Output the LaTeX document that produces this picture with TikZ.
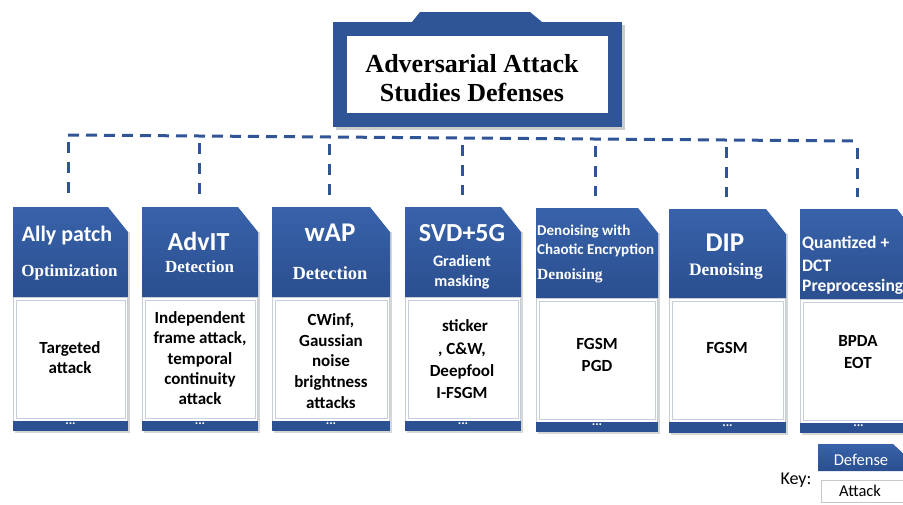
\documentclass[tikz,border=0pt]{standalone}
\usepackage{fontspec}
\setmainfont{Liberation Serif}
\newfontfamily\calfont{Carlito}
\usetikzlibrary{calc}

\definecolor{deepblue}{RGB}{47,85,151}
\definecolor{hdtop}{RGB}{56,98,170}
\definecolor{hdbot}{RGB}{43,79,143}
\definecolor{footblue}{RGB}{44,81,146}
\definecolor{paneline}{RGB}{198,206,218}

\begin{document}
\begin{tikzpicture}[x=1pt,y=-1pt,
  hd/.style={text=white, anchor=base, inner sep=0pt},
  hdl/.style={text=white, anchor=base west, inner sep=0pt},
  sans/.style={font=\calfont\bfseries\fontsize{#1}{#1}\selectfont},
  serif/.style={font=\bfseries\fontsize{#1}{#1}\selectfont},
  bodytxt/.style={font=\calfont\bfseries\fontsize{17}{#1}\selectfont, align=center, inner sep=0pt},
  bus/.style={draw=deepblue, line width=3pt, dash pattern=on 11pt off 7pt},
  link/.style={draw=deepblue, line width=3pt, dash pattern=on 11pt off 9pt,
               shorten <=7pt, shorten >=12pt},
  dots/.style={text=white, font=\calfont\bfseries\fontsize{13}{13}\selectfont, inner sep=0pt},
]
\useasboundingbox (0,0) rectangle (903,504);
\clip (0,0) rectangle (903,504);

% ---- title box with its tab ----
\fill[black, opacity=0.2] (336,25) rectangle (625,130);
\fill[deepblue] (412,22) -- (420,12) -- (530,12) -- (542,22) -- cycle;
\node[draw=deepblue, fill=white, line width=14pt, minimum width=275pt,
      minimum height=91pt, inner sep=0pt] (title) at (477.5,74.5) {};
\node[font=\bfseries\fontsize{26}{29.5}\selectfont, align=center, inner sep=0pt]
      (titletext) at (472,78) {Adversarial Attack\\Studies Defenses};

% ---- cards: header, body, footer ----
\foreach \n/\xa/\xb/\yt/\yh/\yf/\ye in {
    1/13/128/207/297/421/431, 2/142/258/207/297/421/431,
    3/272/390/207/297/421/431, 4/405/521/207/297/421/431,
    5/536/658/208/298/422/432, 6/669/786/209/298/422/433,
    7/800/917/209/299/423/433}{
  \fill[black, opacity=0.16] ({\xa+2},{\yt+25}) rectangle ({\xb+2},{\ye+2});
  \shade[top color=hdtop, bottom color=hdbot]
     (\xa,\yh) -- (\xa,\yt) -- ({\xb-20},\yt) -- (\xb,{\yt+25}) -- (\xb,\yh) -- cycle;
  \fill[white] (\xa,\yh) rectangle (\xb,\yf);
  \draw[paneline, line width=0.6pt] ({\xa+0.3},\yh) rectangle ({\xb-0.3},\yf);
  \draw[paneline, line width=0.9pt] ({\xa+3},{\yh+3}) rectangle ({\xb-3},{\yf-3});
  \fill[footblue] (\xa,\yf) rectangle (\xb,\ye);
  \node[dots] (f\n) at ({(\xa+\xb)/2},{(\yf+\ye)/2-2}) {...};
  \node[inner sep=0pt, minimum width={(\xb-\xa)*1pt}, minimum height={(\yh-\yt)*1pt}]
     (h\n) at ({(\xa+\xb)/2},{(\yt+\yh)/2}) {};
}

% ---- dashed bus and links ----
\coordinate (busL) at (68,135);
\coordinate (busR) at (857,141);
\draw[bus] (busL) -- (busR);
\foreach \n/\cx in {1/68, 2/200, 3/330, 4/463, 5/596, 6/727, 7/857}{
  \coordinate (j\n) at ($(busL)!{(\cx-68)/789}!(busR)$);
  \draw[link] (j\n) -- (j\n |- h\n.north);
}

% ---- header labels ----
\node[hd, sans=22]   (h1a) at (67,241.7)  {Ally patch};
\node[hd, serif=17]  (h1b) at (69.5,276)  {Optimization};
\node[hd, sans=26]   (h2a) at (198.5,250) {AdvIT};
\node[hd, serif=17]  (h2b) at (199.5,272.7) {Detection};
\node[hd, sans=27]   (h3a) at (330,241.7) {wAP};
\node[hd, serif=18.5] (h3b) at (330,279.3) {Detection};
\node[hd, sans=26]   (h4a) at (462,241.7) {SVD+5G};
\node[hd, sans=16]   (h4b) at (462,266)   {Gradient};
\node[hd, sans=16]   (h4c) at (462,286.7) {masking};
\node[hdl, sans=15]  (h5a) at (537,235)   {Denoising with};
\node[hdl, sans=15]  (h5b) at (537,254.3) {Chaotic Encryption};
\node[hdl, serif=15.5] (h5c) at (537,279.3) {Denoising};
\node[hd, sans=27]   (h6a) at (725,251.7) {DIP};
\node[hd, serif=17.5] (h6b) at (726,275)  {Denoising};
\node[hdl, sans=17.5] (h7a) at (802,248.3) {Quantized +};
\node[hdl, sans=17.5] (h7b) at (802,271.7) {DCT};
\node[hdl, sans=17.5] (h7c) at (802,291.7) {Preprocessing};

% ---- attack lists ----
\node[bodytxt=20] (b1) at (70,357.7) {Targeted\\attack};
\node[bodytxt=20.3] (b2) at (200,358.2) {Independent\\frame attack,\\temporal\\continuity\\attack};
\node[bodytxt=20.9] (b3) at (331,361) {CWinf,\\Gaussian\\noise\\brightness\\attacks};
\node[bodytxt=22.2] (b4) at (462,359.3) {\hspace*{6pt}sticker\\, C\&W,\\Deepfool\\I-FSGM};
\node[bodytxt=21.7] (b5) at (597,355.2) {FGSM\\PGD};
\node[bodytxt=20, anchor=base] (b6) at (727,353.3) {FGSM};
\node[bodytxt=21.7] (b7) at (858,351.9) {BPDA\\EOT};

% ---- key ----
\node[font=\calfont\fontsize{18}{18}\selectfont, anchor=base, inner sep=0pt]
      (keylabel) at (796,484) {Key:};
\shade[top color=hdtop, bottom color=hdbot]
      (818,471) -- (818,444) -- (893,444) -- (906,456) -- (906,471) -- cycle;
\node[text=white, font=\calfont\fontsize{16.5}{16.5}\selectfont, anchor=base, inner sep=0pt]
      (keydef) at (861,465) {Defense};
\draw[gray!45, fill=white, line width=0.6pt] (821,480) rectangle (903,502);
\node[font=\calfont\fontsize{16.5}{16.5}\selectfont, anchor=base, inner sep=0pt]
      (keyatk) at (860,496.5) {Attack};
\end{tikzpicture}
\end{document}
